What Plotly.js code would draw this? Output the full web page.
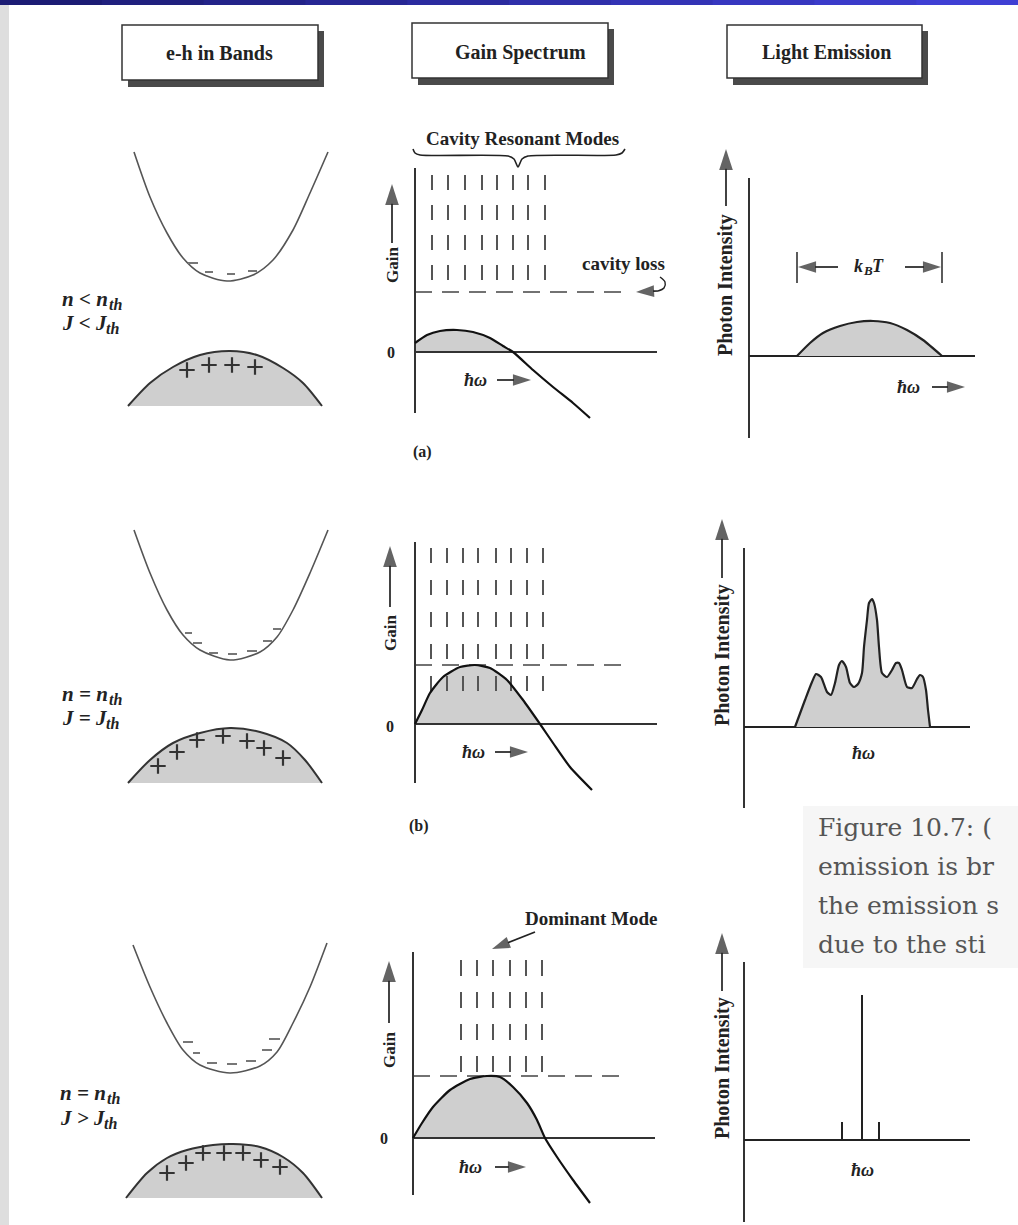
<!DOCTYPE html>
<html><head><meta charset="utf-8">
<script src="https://cdn.plot.ly/plotly-3.0.1.min.js"></script>
<style>html,body{margin:0;padding:0;background:#fff}#chart{width:1018px;height:1225px}</style>
</head><body><div id="chart"></div>
<script>
// ================= DATA =================
const headings = ["e-h in Bands", "Gain Spectrum", "Light Emission"];
// condition labels: [main text, subscript]
const condTop = [["n < n","th"], ["n = n","th"], ["n = n","th"]];
const condBot = [["J < J","th"], ["J = J","th"], ["J > J","th"]];
const rowTags = ["(a)", "(b)", ""];
const captionLines = ["Figure 10.7: (", "emission is br", "the emission s", "due to the sti"];

// --- e-h in bands: k (relative to band centre), E (relative to valence-band base)
const cbK_a = [-96,-80,-63,-47,-30,-3,23,43,63,80,98];
const cbE_a = [254,209,173,148,133,125,131,146,176,213,254];
const cbK_b = [-96,-80,-63,-47,-30,0,30,47,63,80,98];
const cbE_b = [253,210,173,148,133,123,131,146,173,210,253];
const cbK_c = [-97,-80,-63,-47,-30,0,30,47,63,80,97];
const cbE_c = [253,211,175,148,133,125,132,146,175,211,255];

const vbK_a = [-102,-80,-57,-30,0,27,53,73,92];
const vbE_a = [0,23,39,51,55,51,38,23,0];
const vbK_b = [-102,-80,-57,-30,0,30,57,75,92];
const vbE_b = [0,23,40,50,55,51,40,23,0];
const vbK_c = [-104,-83,-63,-43,-17,3,30,53,73,92];
const vbE_c = [0,25,40,48,53,54,51,41,25,0];

// electrons (short dashes: from k0 to k1 at energy E)
const elK0_a = [-42,-25,-3,18],            elK1_a = [-32,-17,5,27],            elE_a = [143,134,132,135];
const elK0_b = [-45,-37,-21,-2,17,33,43],  elK1_b = [-38,-28,-12,7,27,42,51],  elE_b = [150,140,130,129,132,142,154];
const elK0_c = [-47,-37,-23,-3,16,32,39],  elK1_c = [-37,-30,-13,7,26,42,50],  elE_c = [156,145,135,134,137,148,159];
// holes (+)
const hoK_a = [-43,-21,2,25],              hoE_a = [36,41,41,39];
const hoK_b = [-72,-53,-33,-7,17,34,53],   hoE_b = [17,31,43,47,42,35,25];
const hoK_c = [-63,-44,-27,-6,13,31,50],   hoE_c = [25,35,45,45,45,38,31];

// --- gain spectrum: photon energy (from axis) vs gain (0 at the zero line)
const gW_a = [0,12,25,42,58,75,88,98,118,138,158,175];
const gG_a = [9,17,21,22,20,14,6,0,-18,-35,-51,-66];
const gW_b = [0,7,15,28,45,60,75,92,108,125,138,155,177];
const gG_b = [0,14,31,47,57,59,56,44,24,0,-19,-43,-66];
const gW_c = [0,9,20,37,57,74,87,100,114,124,132,144,160,177];
const gG_c = [0,15,31,48,59,62,61,51,35,18,0,-19,-42,-65];
const cavityLoss = [60, 59, 62];
const modeW_a = [17,33,50,67,82,98,113,130];
const modeW_b = [16,32,48,63,81,96,112,128];
const modeW_c = [48,64,80,97,113,129];
const modeSpan = [[177,60],[176,32],[178,66]];
const gainAxisSpan = [[184,-61],[182,-59],[186,-57]];
const gainZeroLen = [242, 242, 242];
const lossLen = [212, 212, 212];
const braceW = [-2,0,5,93,99,103,107,113,201,207,210];
const braceG = [203,199,197,196,193,185,193,196,197,199,203];
const lossHookW = [245,250,249,243];
const lossHookG = [75,70,64,61];

// --- light emission: photon energy (from axis) vs intensity
const eW_a = [48,61,74,91,108,124,141,158,174,193];
const eI_a = [0,13,23,30,34,35,33,26,16,0];
const eW_b = [51,61,68,72,77,83,87,91,95,98,102,106,110,114,118,120,123,125,128,130,133,135,138,143,148,152,155,158,163,168,173,176,179,182,184,186];
const eI_b = [0,27,45,53,50,35,32,44,62,66,60,44,40,43,54,80,107,124,128,124,107,80,54,50,57,64,64,57,40,39,48,52,50,37,17,0];
const eW_c = [98,118,135];
const eI_c = [18,145,18];
const emisAxisSpan = [[178,-82],[179,-81],[178,-82]];
const emisZeroLen = [226, 226, 226];
const kbtW = [48, 193];
const kbtSpan = [73, 104];

// ================= LAYOUT GEOMETRY =================
const W = 1018, H = 1225;
const SERIF = 'Liberation Serif, Times New Roman, serif';
const INK = '#222';
const FILL = '#cfcfcf';

const colX = [[30,345],[360,690],[690,1018]];
const rowY = [
  [[130,420],[510,800],[925,1215]],   // bands
  [[125,470],[500,850],[895,1225]],   // gain
  [[130,470],[500,840],[900,1225]]    // emission
];
const orgX = [[230,230,230],[415,415,413],[749,744,744]];
const orgY = [[406,783,1198],[352,724,1138],[356,727,1140]];

const layout = {
  width: W, height: H, margin: {l:0,r:0,t:0,b:0},
  paper_bgcolor: '#ffffff', plot_bgcolor: 'rgba(0,0,0,0)',
  showlegend: false, shapes: [], annotations: []
};
function ax(idx){ return idx===1 ? '' : String(idx); }
for (let c=0;c<3;c++) for (let r=0;r<3;r++) {
  const idx = r*3+c+1, s = ax(idx);
  const [x0,x1] = colX[c], [t,b] = rowY[c][r];
  layout['xaxis'+s] = {domain:[x0/W, x1/W], range:[x0-orgX[c][r], x1-orgX[c][r]], visible:false, fixedrange:true, anchor:'y'+s};
  layout['yaxis'+s] = {domain:[1-b/H, 1-t/H], range:[orgY[c][r]-b, orgY[c][r]-t], visible:false, fixedrange:true, anchor:'x'+s};
}

const traces = [];
function tr(idx, x, y, extra){
  const s = ax(idx);
  traces.push(Object.assign({type:'scatter', mode:'lines', x, y, xaxis:'x'+s, yaxis:'y'+s, hoverinfo:'skip', cliponaxis:false}, extra||{}));
}
function segs(xs0, xs1, ys0, ys1){
  const X=[],Y=[];
  for(let i=0;i<xs0.length;i++){ X.push(xs0[i], xs1[i], null); Y.push(ys0[i], ys1[i], null); }
  return [X,Y];
}
function ann(idx, x, y, text, font, extra){
  const s = ax(idx);
  layout.annotations.push(Object.assign({xref:'x'+s, yref:'y'+s, x, y, text, showarrow:false,
    xanchor:'center', yanchor:'middle',
    font:Object.assign({family:SERIF, color:INK}, font)}, extra||{}));
}
// text width helper (to place subscripts as their own text items)
const mctx = document.createElement('canvas').getContext('2d');
function textW(str, size){ mctx.font = 'italic bold ' + size + 'px "Liberation Serif"'; return mctx.measureText(str).width; }
function subLabel(idx, x, y, main, sub, size, subSize){
  const f = {size, weight:'bold', style:'italic'};
  ann(idx, x, y, main, f, {xanchor:'left'});
  ann(idx, x + textW(main, size) + 1, y - size*0.28, sub, {size:subSize, weight:'bold', style:'italic'}, {xanchor:'left'});
}
// arrow: shaft from tail to head; arrowhead marker (tip at head) oriented along the shaft
function arrow(idx, tx, ty, hx, hy, size){
  tr(idx, [tx, hx], [ty, hy], {mode:'lines+markers', line:{color:INK, width:1.7},
    marker:{symbol:['circle','arrow'], size:[0, size||22], angleref:'previous', color:INK, line:{width:0}}});
}

const CB = [[cbK_a,cbE_a],[cbK_b,cbE_b],[cbK_c,cbE_c]];
const VB = [[vbK_a,vbE_a],[vbK_b,vbE_b],[vbK_c,vbE_c]];
const EL = [[elK0_a,elK1_a,elE_a],[elK0_b,elK1_b,elE_b],[elK0_c,elK1_c,elE_c]];
const HO = [[hoK_a,hoE_a],[hoK_b,hoE_b],[hoK_c,hoE_c]];
const GN = [[gW_a,gG_a],[gW_b,gG_b],[gW_c,gG_c]];
const MODES = [modeW_a, modeW_b, modeW_c];
const EM = [[eW_a,eI_a],[eW_b,eI_b]];
const condY = [[107,83],[89,65],[105,80]];
const condX = [-170,-170,-172];

for (let r=0;r<3;r++){
  // ---- bands
  const bi = r*3+1;
  tr(bi, VB[r][0], VB[r][1], {fill:'tozeroy', fillcolor:FILL, line:{color:'#333', width:2, shape:'spline', smoothing:0.8}});
  tr(bi, CB[r][0], CB[r][1], {line:{color:'#555', width:1.6, shape:'spline', smoothing:0.8}});
  const [ex,ey] = segs(EL[r][0], EL[r][1], EL[r][2], EL[r][2]);
  tr(bi, ex, ey, {line:{color:'#777', width:2}});
  tr(bi, HO[r][0], HO[r][1], {mode:'markers', marker:{symbol:'cross-thin', size:11, line:{width:2.2, color:'#333'}}});
  subLabel(bi, condX[r], condY[r][0], condTop[r][0], condTop[r][1], 21, 16);
  subLabel(bi, condX[r], condY[r][1], condBot[r][0], condBot[r][1], 21, 16);

  // ---- gain
  const gi = r*3+2;
  const gx = GN[r][0], gy = GN[r][1];
  const cut = gy.findIndex((v,i)=> i>0 && v===0);
  tr(gi, gx.slice(0,cut+1), gy.slice(0,cut+1), {fill:'tozeroy', fillcolor:FILL, line:{width:0, shape:'spline', smoothing:0.6}});
  const mx=[], my=[];
  MODES[r].forEach(w=>{ mx.push(w,w,null); my.push(modeSpan[r][0], modeSpan[r][1], null); });
  tr(gi, mx, my, {line:{color:'#555', width:2, dash: r===1 ? '15px,17px' : (r===2 ? '16px,16px' : '15px,15px')}});
  tr(gi, [0, lossLen[r]], [cavityLoss[r], cavityLoss[r]], {line:{color:'#444', width:1.6, dash:'17px,10px'}});
  tr(gi, [0,0], gainAxisSpan[r], {line:{color:'#333', width:2}});
  tr(gi, [0, gainZeroLen[r]], [0,0], {line:{color:'#333', width:2}});
  tr(gi, gx, gy, {line:{color:'#111', width:2.2, shape:'spline', smoothing:0.6}});

  // ---- emission
  const ei = r*3+3;
  tr(ei, [0,0], emisAxisSpan[r], {line:{color:'#333', width:2}});
  tr(ei, [0, emisZeroLen[r]], [0,0], {line:{color:'#222', width:2}});
  if (r<2){
    tr(ei, EM[r][0], EM[r][1], {fill:'tozeroy', fillcolor:FILL, line:{color:'#222', width:2.2, shape:'spline', smoothing:0.6}});
  } else {
    const [lx,ly] = segs(eW_c, eW_c, eW_c.map(()=>0), eI_c);
    tr(ei, lx, ly, {line:{color:'#222', width:2}});
  }
}

// ---- extra marks
tr(2, braceW, braceG, {line:{color:INK, width:1.6, shape:'spline', smoothing:0.7}});
tr(2, lossHookW, lossHookG, {line:{color:INK, width:1.4, shape:'spline', smoothing:1}});
const [kx,ky] = segs(kbtW, kbtW, [kbtSpan[0],kbtSpan[0]], [kbtSpan[1],kbtSpan[1]]);
tr(3, kx, ky, {line:{color:'#333', width:1.6}});

// ---- gain-panel texts and arrows
const gainLbl = [[-23,87,109,168],[-25,91,117,178],[-24,88,115,177]];
const zeroLbl = [[-24,0],[-25,-2],[-29,0]];
const hwG = [[60,-28,82,116],[58,-28,80,113],[57,-29,82,113]];
const tagPos = [[7,-100],[4,-102]];
for (let r=0;r<3;r++){
  const gi = r*3+2;
  ann(gi, gainLbl[r][0], gainLbl[r][1], 'Gain', {size:17, weight:'bold'}, {textangle:-90});
  arrow(gi, gainLbl[r][0], gainLbl[r][2], gainLbl[r][0], gainLbl[r][3]);
  ann(gi, zeroLbl[r][0], zeroLbl[r][1], '0', {size:16, weight:'bold'});
  ann(gi, hwG[r][0], hwG[r][1], 'ħω', {size:18, weight:'bold', style:'italic'});
  arrow(gi, hwG[r][2], hwG[r][1], hwG[r][3], hwG[r][1], 19);
  if (rowTags[r]) ann(gi, tagPos[r][0], tagPos[r][1], rowTags[r], {size:16, weight:'bold'});
}
ann(2, 107, 214, 'Cavity Resonant Modes', {size:19, weight:'bold'});
ann(2, 208, 89, 'cavity loss', {size:19, weight:'bold'});
arrow(2, 243, 61, 221, 60, 19);
ann(8, 178, 220, 'Dominant Mode', {size:19, weight:'bold'});
arrow(8, 122, 206, 79, 189, 19);

// ---- emission-panel texts and arrows
const piLbl = [[-23,71,150,207],[-22,72,149,208],[-22,72,149,207]];
const hwE = [[159,-31],[119,-26],[118,-30]];
for (let r=0;r<3;r++){
  const ei = r*3+3;
  ann(ei, piLbl[r][0], piLbl[r][1], 'Photon Intensity', {size:20, weight:'bold'}, {textangle:-90});
  arrow(ei, piLbl[r][0], piLbl[r][2], piLbl[r][0], piLbl[r][3]);
  ann(ei, hwE[r][0], hwE[r][1], 'ħω', {size:18, weight:'bold', style:'italic'});
}
arrow(3, 183, -31, 216, -31, 19);
// k_B T label
const kW = textW('k', 18), bW = textW('B', 13);
ann(3, 103, 90, 'k', {size:18, weight:'bold', style:'italic'}, {xanchor:'left'});
ann(3, 103 + kW, 85, 'B', {size:13, weight:'bold', style:'italic'}, {xanchor:'left'});
ann(3, 103 + kW + bW, 90, 'T', {size:18, weight:'bold', style:'italic'}, {xanchor:'left'});
arrow(3, 89, 89, 49, 89, 19);
arrow(3, 156, 89, 192, 89, 19);

// ---- page furniture: top bar, side strip, heading boxes, caption
const px = v => v/W, py = v => 1 - v/H;
const barCols = ['#1c1c74','#20207e','#232389','#272794','#2b2b9f','#2f2faa','#3333b5','#3737c0','#3b3bca','#3f3fd4'];
barCols.forEach((col,i)=>{
  layout.shapes.push({type:'rect', xref:'paper', yref:'paper', x0:px(i*W/10), x1:px(Math.min(W,(i+1)*W/10+1)), y0:py(5), y1:py(0), fillcolor:col, line:{width:0}, layer:'below'});
});
layout.shapes.push({type:'rect', xref:'paper', yref:'paper', x0:0, x1:px(9), y0:0, y1:py(5), fillcolor:'#dedede', line:{width:0}, layer:'below'});
layout.shapes.push({type:'rect', xref:'paper', yref:'paper', x0:px(803), x1:1, y0:py(968), y1:py(806), fillcolor:'#f6f6f6', line:{width:0}, layer:'below'});
const boxes = [[122,318,25,80,219],[412,608,23,78,520],[727,922,25,78,826]];
boxes.forEach((b,i)=>{
  layout.shapes.push({type:'rect', xref:'paper', yref:'paper', x0:px(b[0]+6), x1:px(b[1]+6), y0:py(b[3]+7), y1:py(b[2]+6), fillcolor:'#4a4a4a', line:{width:0}});
  layout.shapes.push({type:'rect', xref:'paper', yref:'paper', x0:px(b[0]), x1:px(b[1]), y0:py(b[3]), y1:py(b[2]), fillcolor:'#ffffff', line:{color:'#333', width:1.5}});
  layout.annotations.push({xref:'paper', yref:'paper', x:px(b[4]), y:py(53), xanchor:'center', yanchor:'middle', text:headings[i], showarrow:false,
    font:{family:SERIF, size:20, weight:'bold', color:INK}});
});
captionLines.forEach((t,i)=>{
  layout.annotations.push({xref:'paper', yref:'paper', x:px(816), y:py(827+39*i), xanchor:'left', yanchor:'middle', text:t, showarrow:false,
    font:{family:'DejaVu Serif, serif', size:25, color:'#555'}});
});

Plotly.newPlot('chart', traces, layout, {staticPlot:true, displayModeBar:false});
</script>
</body></html>
